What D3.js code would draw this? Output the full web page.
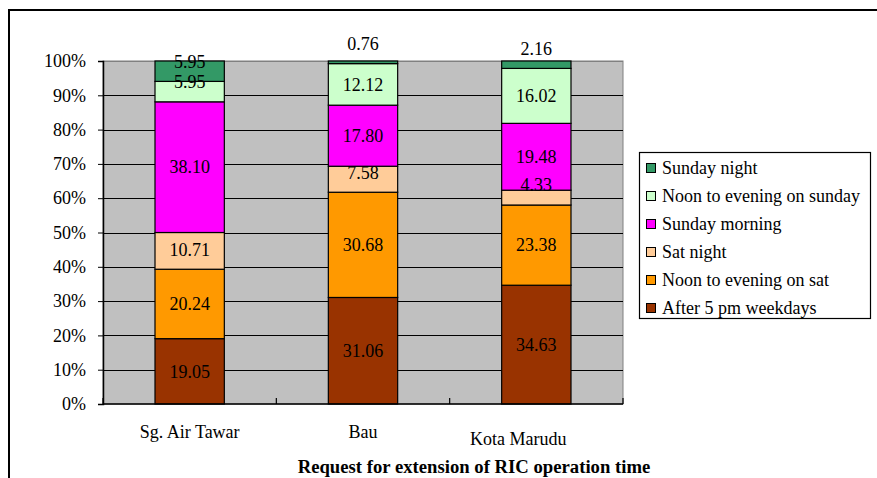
<!DOCTYPE html>
<html><head><meta charset="utf-8">
<script src="https://cdn.jsdelivr.net/npm/d3@7"></script>
<style>body{margin:0;background:#fff}svg{display:block}svg text{font-family:"Times New Roman","Liberation Serif",Tinos,"DejaVu Serif",serif !important;fill:#000}</style>
</head><body>
<svg id="c" width="877" height="478"></svg>
<script>
const categories = ["Sg. Air Tawar", "Bau", "Kota Marudu"];
const seriesNames = ["After 5 pm weekdays", "Noon to evening on sat", "Sat night", "Sunday morning", "Noon to evening on sunday", "Sunday night"];
const after5pm   = [19.05, 31.06, 34.63];
const noonSat    = [20.24, 30.68, 23.38];
const satNight   = [10.71, 7.58, 4.33];
const sunMorning = [38.10, 17.80, 19.48];
const noonSun    = [5.95, 12.12, 16.02];
const sunNight   = [5.95, 0.76, 2.16];
const yTicks = [0, 10, 20, 30, 40, 50, 60, 70, 80, 90, 100];
const xTitle = "Request for extension of RIC operation time";

const seriesValues = [after5pm, noonSat, satNight, sunMorning, noonSun, sunNight];
const colors = ["#993300", "#FF9900", "#FFCC99", "#FF00FF", "#CCFFCC", "#339966"];
const FONT = '"Times New Roman","Liberation Serif",Tinos,"DejaVu Serif",serif';

const svg = d3.select("#c");
svg.append("path").attr("d", "M9,478V10H877").attr("fill", "none").attr("stroke", "#000").attr("stroke-width", 2);

const L = 103, R = 623, T = 61, B = 404;
const x = d3.scaleBand().domain(categories).range([L, R]).paddingInner(0.6).paddingOuter(0.3);
const y = d3.scaleLinear().domain([0, 100]).range([B, T]);

svg.append("rect").attr("x", L).attr("y", T).attr("width", R - L).attr("height", B - T).attr("fill", "#C0C0C0")
  .attr("stroke", "#808080").attr("stroke-width", 1);

svg.append("g").selectAll("line").data(yTicks.filter(d => d > 0)).join("line")
  .attr("x1", L).attr("x2", R).attr("y1", d => Math.round(y(d)) + 0.5).attr("y2", d => Math.round(y(d)) + 0.5)
  .attr("stroke", d => d === 100 ? "#808080" : "#000").attr("stroke-width", 1);

const table = categories.map((c, i) => { const o = {cat: c}; seriesNames.forEach((s, j) => o[s] = seriesValues[j][i]); return o; });
const stack = d3.stack().keys(seriesNames)(table);

const g = svg.append("g");
stack.forEach((layer, j) => {
  g.selectAll(null).data(layer).join("rect")
    .attr("x", d => x(d.data.cat)).attr("width", x.bandwidth())
    .attr("y", d => y(d[1])).attr("height", d => y(d[0]) - y(d[1]))
    .attr("fill", colors[j]).attr("stroke", "#000").attr("stroke-width", 1.2);
});
stack.forEach((layer, j) => {
  g.selectAll(null).data(layer).join("text")
    .attr("x", d => x(d.data.cat) + x.bandwidth() / 2)
    .attr("y", d => { const h = y(d[0]) - y(d[1]); const c = (y(d[0]) + y(d[1])) / 2; return c - Math.max(0, (40 - h) / 2); })
    .attr("dy", "0.35em").attr("text-anchor", "middle").attr("font-size", 18).attr("font-family", FONT)
    .text(d => (d[1] - d[0]).toFixed(2));
});

const yAxis = d3.axisLeft(y).tickValues(yTicks).tickFormat(d => d + "%").tickSize(5).tickPadding(12);
const ya = svg.append("g").attr("transform", `translate(${L},0)`).call(yAxis).attr("font-family", FONT);
ya.select(".domain").attr("stroke", "#000").attr("stroke-width", 1.5);
ya.selectAll("text").attr("font-size", 18).attr("font-family", FONT);

svg.append("line").attr("x1", L).attr("x2", R).attr("y1", B).attr("y2", B).attr("stroke", "#000").attr("stroke-width", 1.5);
const step = x.step();
const bounds = d3.range(categories.length + 1).map(i => L + i * step);
svg.append("g").selectAll("line").data(bounds).join("line")
  .attr("x1", d => d).attr("x2", d => d).attr("y1", B).attr("y2", B - 6).attr("stroke", "#000").attr("stroke-width", 1.2);

const catNudge = [[0, 0], [0, 0], [-18, 7]];
svg.append("g").selectAll("text").data(categories).join("text")
  .attr("x", (d, i) => x(d) + x.bandwidth() / 2 + catNudge[i][0])
  .attr("y", (d, i) => 432 + catNudge[i][1]).attr("dy", "0.35em")
  .attr("text-anchor", "middle").attr("font-size", 18).attr("font-family", FONT).text(d => d);

svg.append("text").attr("x", 474).attr("y", 466).attr("dy", "0.35em").attr("text-anchor", "middle")
  .attr("font-size", 18.7).attr("font-weight", "bold").attr("font-family", FONT).text(xTitle);

const lg = svg.append("g");
lg.append("rect").attr("x", 639.5).attr("y", 152.5).attr("width", 231).attr("height", 166)
  .attr("fill", "#fff").attr("stroke", "#000").attr("stroke-width", 1.2);
const legendItems = seriesNames.map((s, j) => ({name: s, color: colors[j]})).reverse();
const li = lg.selectAll("g.it").data(legendItems).join("g").attr("class", "it")
  .attr("transform", (d, i) => `translate(646,${168 + i * 28})`);
li.append("rect").attr("x", 0.5).attr("y", -4.5).attr("width", 9).attr("height", 9)
  .attr("fill", d => d.color).attr("stroke", "#000").attr("stroke-width", 1);
li.append("text").attr("x", 16).attr("dy", "0.35em").attr("font-size", 18).attr("font-family", FONT).text(d => d.name);
</script>
</body></html>
